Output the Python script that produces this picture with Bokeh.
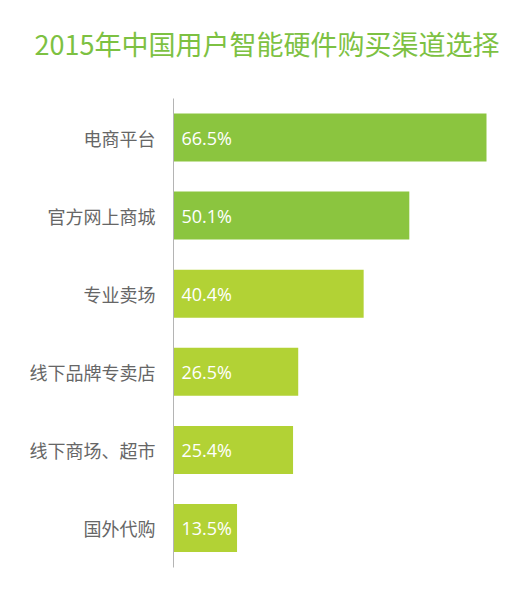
from bokeh.plotting import figure
from bokeh.models import ColumnDataSource, Range1d, FixedTicker
from bokeh.core.properties import value
from bokeh.embed import file_html
from bokeh.resources import INLINE

title_text = "2015年中国用户智能硬件购买渠道选择"
categories = ["电商平台", "官方网上商城", "专业卖场", "线下品牌专卖店", "线下商场、超市", "国外代购"]
values = [66.5, 50.1, 40.4, 26.5, 25.4, 13.5]
labels = ["66.5%", "50.1%", "40.4%", "26.5%", "25.4%", "13.5%"]
colors = ["#8BC53F", "#8BC53F", "#B2D235", "#B2D235", "#B2D235", "#B2D235"]

pos = list(range(len(categories)))  # category slots, top to bottom
src = ColumnDataSource(dict(pos=pos, val=values, lab=labels, col=colors,
                            zero=[0] * len(values)))

W, H = 527, 589
x0_px, px_per_unit = 173, 4.7068     # axis position and horizontal scale
y0_px, px_per_slot = 137, 78.1       # first bar centre and slot height

x_range = Range1d(-x0_px / px_per_unit, (W - x0_px) / px_per_unit)
y_range = Range1d((H - y0_px) / px_per_slot, -y0_px / px_per_slot)  # flipped: first at top

p = figure(width=W, height=H, output_backend="svg", toolbar_location=None,
           x_range=x_range, y_range=y_range,
           min_border=0, min_border_left=0, min_border_right=0,
           min_border_top=0, min_border_bottom=0)
p.title.visible = False
p.outline_line_color = None
p.grid.visible = False
p.xaxis.visible = False
p.background_fill_color = "white"
p.border_fill_color = "white"

p.hbar(y="pos", left=0, right="val", height=0.615, fill_color="col", line_color=None, source=src)
p.text(x="zero", y="pos", text="lab", source=src, x_offset=8,
       text_color="white", text_font=value("Open Sans"), text_font_size="18px",
       text_baseline="middle", text_align="left")

yax = p.yaxis[0]
yax.fixed_location = 0
yax.bounds = (-0.5, len(categories) - 0.5)
yax.ticker = FixedTicker(ticks=pos)
yax.major_label_overrides = {i: c for i, c in zip(pos, categories)}
yax.axis_line_color = "#b4b4b4"
yax.axis_line_width = 1
yax.major_tick_line_color = None
yax.minor_tick_line_color = None
yax.major_tick_out = 0
yax.major_tick_in = 0
yax.major_label_standoff = 18
yax.major_label_text_font = "Noto Sans CJK SC"
yax.major_label_text_font_size = "18px"
yax.major_label_text_color = "#666666"

# chart title, centred above the bars
title_x = (266.5 - x0_px) / px_per_unit
title_y = (43 - y0_px) / px_per_slot
p.text(x=[title_x], y=[title_y], text=[title_text], text_align="center", text_baseline="middle",
       text_font=value("Noto Sans CJK SC"), text_font_size="27px", text_color="#7DC142")

open("out.html", "w").write(file_html(p, INLINE))
